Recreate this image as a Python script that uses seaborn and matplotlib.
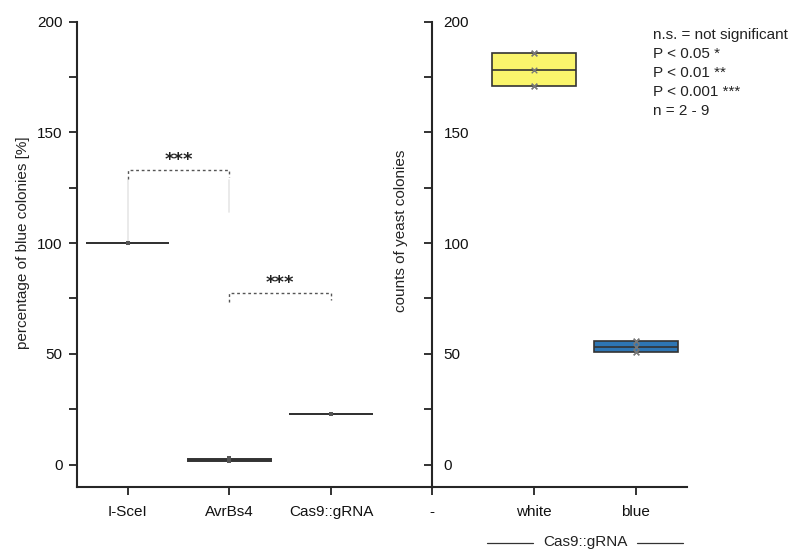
import matplotlib
matplotlib.use("Agg")
import matplotlib.pyplot as plt
from matplotlib.lines import Line2D
import seaborn as sns
import pandas as pd

# ---------------- data ----------------
left_categories = ["I-SceI", "AvrBs4", "Cas9::gRNA"]
isce_values = [100.0, 100.0, 100.0, 100.0]
avrbs4_values = [1.5, 1.8, 2.2, 2.6, 2.9]
cas9_values = [22.7, 22.7, 22.7]

right_categories = ["-", "white", "blue"]
white_counts = [170.8, 170.8, 178.4, 185.7, 185.7]
blue_counts = [50.7, 50.7, 53.0, 55.9, 55.9]

sig_pairs = [("I-SceI", "AvrBs4", 133.0, "***"), ("AvrBs4", "Cas9::gRNA", 77.5, "***")]
legend_lines = ["n.s. = not significant", "P < 0.05 *", "P < 0.01 **", "P < 0.001 ***", "n = 2 - 9"]

left_df = pd.DataFrame({
    "group": ["I-SceI"] * len(isce_values) + ["AvrBs4"] * len(avrbs4_values) + ["Cas9::gRNA"] * len(cas9_values),
    "value": isce_values + avrbs4_values + cas9_values,
})
right_df = pd.DataFrame({
    "group": ["white"] * len(white_counts) + ["blue"] * len(blue_counts),
    "value": white_counts + blue_counts,
})

# ---------------- style ----------------
sns.set_style("ticks")
plt.rcParams["font.family"] = ["Liberation Sans", "DejaVu Sans"]
plt.rcParams["font.size"] = 11
W, H = 792, 549
fig = plt.figure(figsize=(W / 100, H / 100), dpi=100)

def fx(px):
    return px / W

def fy(py):
    return 1 - py / H

top_px, bot_px = 21.7, 486.7
axL = fig.add_axes([fx(76.7), fy(bot_px), fx(432.7 - 76.7), (bot_px - top_px) / H])
axR = fig.add_axes([fx(432.3), fy(bot_px), fx(686.7 - 432.3), (bot_px - top_px) / H])

dark = "#333333"

# left panel
sns.boxplot(data=left_df, x="group", y="value", order=left_categories, ax=axL,
            color="#333333", linewidth=1.4, linecolor=dark, showcaps=False,
            fliersize=0, width=0.82, saturation=1)
sns.stripplot(data=left_df, x="group", y="value", order=left_categories, ax=axL,
              jitter=False, marker="s", size=3.5, color="#555555")

# right panel
sns.boxplot(data=right_df, x="group", y="value", order=right_categories, ax=axR,
            hue="group", hue_order=right_categories, saturation=1,
            palette={"-": "white", "white": "#FAF56C", "blue": "#2E76B4"},
            legend=False, linewidth=1.2, linecolor=dark, showcaps=False,
            fliersize=0, width=0.82)
sns.stripplot(data=right_df, x="group", y="value", order=right_categories, ax=axR,
              jitter=False, marker="x", size=4, color="#777777", linewidth=1)

for ax in (axL, axR):
    ax.set_ylim(-10, 200)
    ax.set_yticks([0, 50, 100, 150, 200])
    ax.set_yticks([25, 75, 125, 175], minor=True)
    ax.set_xlabel("")
    ax.set_ylabel("")
    for s in ("top", "right"):
        ax.spines[s].set_visible(False)
    ax.spines["left"].set_linewidth(1.5)
    ax.spines["bottom"].set_linewidth(1.5)
    ax.tick_params(axis="both", which="both", direction="out", width=1.3, length=6,
                   color="#222222", labelsize=11, labelcolor="#111111")
    ax.tick_params(axis="y", pad=4)
    ax.tick_params(axis="x", pad=7)
    ax.patch.set_alpha(0)

axL.set_xlim(-0.5, 3.0)
axR.set_xlim(0, 2.5)

# right-panel tick labels inside the axis
axR.tick_params(axis="y", which="major", pad=-14)
for lab in axR.get_yticklabels():
    lab.set_horizontalalignment("left")

# significance brackets
pos = {c: i for i, c in enumerate(left_categories)}
for a, b, yv, txt in sig_pairs:
    xa, xb = pos[a], pos[b]
    axL.plot([xa, xa, xb, xb], [yv - 4.2, yv, yv, yv - 3.0], color="#555555",
             linewidth=1.0, linestyle=(0, (2, 2)))
    axL.text((xa + xb) / 2, yv + 0.5, txt, ha="center", va="bottom",
             fontsize=13, fontweight="bold", family="DejaVu Sans", color="#222222")

# faint connector lines
axL.plot([0, 0], [101, 128.5], color="#e6e6e6", linewidth=1.2, zorder=0)
axL.plot([1, 1], [114, 128.5], color="#e6e6e6", linewidth=1.2, zorder=0)

# axis titles
fig.text(fx(23), fy(243), "percentage of blue colonies [%]", rotation=90,
         ha="center", va="center", fontsize=11, color="#222222")
fig.text(fx(401), fy(231), "counts of yeast colonies", rotation=90,
         ha="center", va="center", fontsize=11, color="#222222")

# legend text
for i, t in enumerate(legend_lines):
    fig.text(fx(653), fy(35 + i * 19), t, ha="left", va="center", fontsize=11, color="#222222")

# group label below right panel
fig.text(fx(585), fy(542), "Cas9::gRNA", ha="center", va="center", fontsize=11, color="#222222")
fig.add_artist(Line2D([fx(487), fx(533)], [fy(543), fy(543)], color="#333333", linewidth=0.9))
fig.add_artist(Line2D([fx(637), fx(683)], [fy(543), fy(543)], color="#333333", linewidth=0.9))

fig.savefig("out.png", dpi=100, facecolor="white")
